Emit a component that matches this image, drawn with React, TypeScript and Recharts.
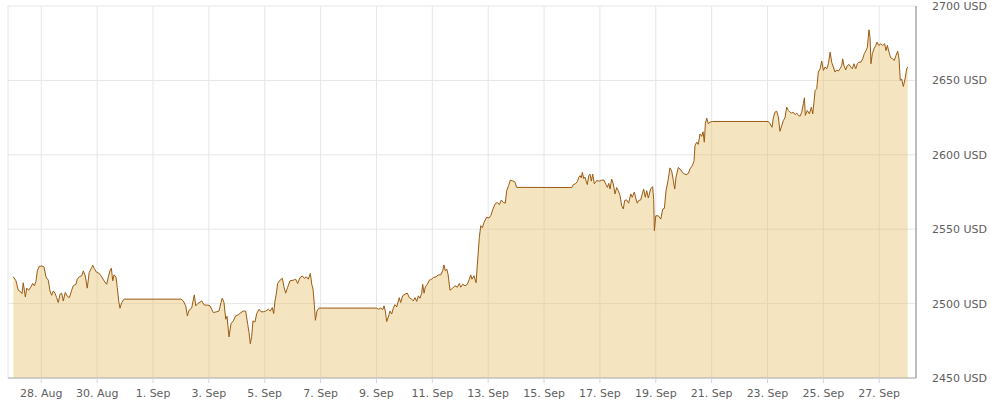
import { Area, AreaChart, CartesianGrid, XAxis, YAxis } from "recharts";

// hours since 27 Aug 00:00
const HOURS = [
  0, 2.3, 4.2, 6.3, 7.4, 8.5, 10.3, 11.5, 13.2, 14.9, 16.6, 18.0, 19.4, 20.6, 22.3, 24.3, 26.3, 28.0, 30.0, 31.5,
  32.9, 34.3, 35.8, 37.2, 38.6, 40.1, 41.5, 42.9, 44.6, 46.3, 48.1, 50.1, 51.5, 53.8, 54.9, 56.7, 58.7, 60.1, 61.8, 63.5,
  65.2, 67.3, 68.2, 69.5, 71.6, 73.8, 75.9, 77.9, 80.2, 81.6, 83.0, 84.2, 85.4, 86.5, 88.2, 89.3, 90.5, 91.6, 93.1, 95.1,
  144.0, 146.0, 148.1, 149.5, 150.9, 153.2, 155.5, 156.7, 158.4, 160.4, 161.8, 164.1, 167.0, 169.0, 171.8, 174.7, 176.7, 178.4, 179.5, 181.0,
  182.5, 183.6, 185.3, 187.0, 189.0, 191.0, 193.3, 195.6, 197.6, 199.6, 201.4, 202.5, 203.6, 204.8, 205.9, 207.6, 209.1, 211.1, 212.8, 214.8,
  216.8, 219.1, 220.8, 222.5, 223.7, 224.8, 225.9, 227.1, 229.1, 231.1, 232.5, 234.0, 235.7, 237.7, 240.5, 242.6, 244.3, 246.3, 248.3, 250.0,
  251.7, 253.4, 255.2, 256.4, 257.5, 258.6, 259.5, 260.9, 262.6, 312.2, 313.6, 315.6, 317.4, 318.5, 319.6, 320.8, 322.5, 323.6, 325.1, 326.5,
  327.9, 329.4, 330.8, 331.6, 332.8, 334.5, 336.5, 338.5, 340.2, 342.3, 343.7, 345.1, 346.6, 348.0, 349.4, 350.9, 351.7, 352.9, 354.0, 355.7,
  357.4, 359.5, 360.8, 363.2, 365.1, 367.2, 368.9, 370.0, 371.2, 372.4, 373.5, 375.2, 377.5, 379.5, 381.5, 383.2, 384.4, 386.1, 388.1, 390.1,
  391.8, 393.0, 394.1, 395.8, 397.6, 398.7, 400.4, 401.6, 403.0, 404.4, 406.7, 408.7, 410.2, 411.9, 413.9, 415.8, 417.6, 419.3, 421.0, 422.7,
  423.9, 425.6, 427.0, 428.7, 430.8, 432.5, 479.8, 481.2, 482.9, 484.6, 485.8, 486.9, 488.0, 488.9, 490.1, 491.2, 492.3, 493.2, 494.4, 495.5,
  496.6, 497.8, 499.2, 501.3, 503.5, 505.6, 507.5, 509.2, 510.4, 511.6, 512.7, 514.1, 515.5, 517.0, 518.4, 519.8, 521.3, 522.7, 524.1, 525.3,
  527.0, 528.7, 530.5, 531.8, 533.6, 535.0, 536.1, 537.3, 539.1, 540.4, 541.6, 543.0, 544.2, 545.6, 547.6, 549.3, 550.2, 550.8, 552.0, 554.2,
  556.3, 558.0, 559.4, 560.8, 562.5, 564.2, 565.7, 567.1, 568.3, 569.4, 571.4, 573.4, 575.7, 578.0, 580.0, 581.4, 583.4, 584.9, 585.7, 587.2,
  588.5, 590.0, 591.5, 592.6, 593.7, 594.6, 595.8, 597.2, 598.6, 600.9, 648.7, 650.1, 651.9, 653.0, 654.4, 655.9, 657.3, 658.7, 660.2, 661.6,
  663.0, 664.5, 665.9, 667.4, 668.8, 670.2, 671.7, 673.1, 674.5, 676.0, 677.4, 678.8, 679.7, 680.5, 682.2, 684.0, 685.7, 686.9, 688.0, 688.9,
  690.3, 691.7, 693.2, 694.6, 696.0, 697.5, 698.9, 700.3, 701.8, 703.2, 704.6, 706.0, 707.5, 708.9, 710.3, 711.8, 712.6, 713.7, 715.2, 716.6,
  718.1, 719.5, 720.9, 722.3, 723.8, 725.2, 726.6, 728.3, 729.8, 731.2, 732.6, 733.8, 735.2, 736.1, 736.9, 738.1, 739.5, 741.0, 742.1, 743.6,
  745.3, 747.0, 748.7, 749.8, 751.0, 752.4, 753.9, 755.6, 757.0, 758.4, 759.9, 761.0, 762.1, 763.3, 764.7, 766.2, 767.6, 768.5,
];

const PRICES = [
  2518, 2515.3, 2509, 2508, 2506.7, 2514, 2504.5, 2510.4, 2509, 2511, 2513.5, 2512, 2514.8, 2522, 2525, 2525.3, 2524.7, 2518, 2515.7, 2508.5,
  2505.6, 2508.5, 2507, 2504, 2500.7, 2506.3, 2507, 2501.8, 2507.5, 2505, 2504, 2509, 2512, 2513, 2516.4, 2518, 2518.7, 2522, 2518.5, 2510.4,
  2521, 2524.2, 2525.8, 2523.5, 2521, 2520.3, 2518, 2515.3, 2513, 2518, 2522, 2523.8, 2515.3, 2519.3, 2518, 2510.8, 2501.8, 2496.9, 2500.7, 2503,
  2503, 2501.8, 2498.5, 2491.7, 2495.5, 2497, 2505.9, 2498.5, 2500, 2501, 2501.8, 2499, 2499, 2498.5, 2494, 2494.5, 2495, 2500.7, 2503.6, 2500.7,
  2489.5, 2491.5, 2477.6, 2486.5, 2488.4, 2491.7, 2492.5, 2494, 2495, 2495, 2486, 2480.5, 2473, 2478, 2488.4, 2487.6, 2493.3, 2496.2, 2494.5, 2494.5,
  2495, 2496.2, 2495, 2497.3, 2493.3, 2501.8, 2506.3, 2513.5, 2515.7, 2517, 2511.3, 2507, 2511, 2515.3, 2515.7, 2516.4, 2513.5, 2517.5, 2518.6, 2517,
  2518, 2516.4, 2520.2, 2513, 2509.7, 2499.6, 2488.8, 2495, 2497, 2497, 2496.2, 2497, 2496, 2498.5, 2495, 2487.9, 2491.7, 2495, 2493, 2497,
  2499.3, 2497.8, 2501.8, 2504, 2500.7, 2505.2, 2506.3, 2507, 2504, 2503, 2501.8, 2504, 2501.5, 2505.2, 2503.6, 2507, 2513, 2507, 2511.3, 2513,
  2515.7, 2516.4, 2517.5, 2518, 2519.3, 2519.3, 2522, 2526, 2522, 2523.2, 2519.8, 2509, 2510.4, 2512, 2511, 2513.5, 2511, 2513, 2512, 2513,
  2516.4, 2519.3, 2516.4, 2518.7, 2514, 2526.5, 2544.4, 2552.3, 2551, 2554.5, 2558, 2557.5, 2559, 2563, 2567, 2568, 2566.5, 2569.6, 2568, 2567.5,
  2575.9, 2579.3, 2583, 2582.5, 2582, 2578.1, 2578, 2580, 2580.5, 2582, 2584.8, 2586, 2584.5, 2588.2, 2584, 2585, 2582, 2580, 2586, 2587,
  2582.3, 2587, 2580.5, 2582.7, 2582.3, 2583, 2583, 2580, 2578.1, 2580.8, 2577, 2583.7, 2580.5, 2573.7, 2578, 2575.9, 2572.6, 2565.8, 2563.6, 2569.3,
  2569.7, 2567.5, 2573.7, 2571.5, 2575, 2570.3, 2567.5, 2569.3, 2569.7, 2573.7, 2577, 2571.5, 2575.9, 2571, 2577, 2578.6, 2570, 2549, 2559, 2559,
  2556.8, 2563.6, 2564, 2575.9, 2582.6, 2591.2, 2589, 2582.6, 2577, 2585, 2591.6, 2589.8, 2587.5, 2586.6, 2587.5, 2590.5, 2592.7, 2596, 2606.2, 2608.5,
  2607, 2614, 2612.4, 2615.5, 2608.5, 2620.8, 2624.6, 2620.8, 2622, 2622.4, 2622.4, 2621, 2618.5, 2624.8, 2628.6, 2629.3, 2625.6, 2615.8, 2619.5, 2623,
  2624.8, 2632, 2629.8, 2628.6, 2628, 2628.6, 2627, 2628, 2626.5, 2626, 2628.6, 2634.3, 2638.3, 2626.5, 2629.8, 2627.5, 2632, 2627.5, 2636, 2643.2,
  2644.4, 2655.6, 2657.8, 2663, 2656.7, 2659, 2657.8, 2661.2, 2669, 2662, 2659, 2655.6, 2657, 2656.3, 2657.8, 2660, 2664.5, 2660, 2657, 2660,
  2660.7, 2659, 2657.8, 2661.2, 2657.8, 2661.2, 2662.3, 2662.3, 2664.5, 2668, 2670, 2672.3, 2684, 2679, 2661.2, 2668, 2671.2, 2673.5, 2675.7, 2673.5,
  2674.6, 2673.5, 2674.6, 2670, 2673.5, 2669, 2665.2, 2664.5, 2663.4, 2666.8, 2669.7, 2664.5, 2650, 2651, 2645.9, 2651, 2657.8, 2659,
];

const TICK_HOURS = [24, 72, 120, 168, 216, 264, 312, 360, 408, 456, 504, 552, 600, 648, 696, 744];
const TICK_LABELS = [
  "28. Aug", "30. Aug", "1. Sep", "3. Sep", "5. Sep", "7. Sep", "9. Sep", "11. Sep",
  "13. Sep", "15. Sep", "17. Sep", "19. Sep", "21. Sep", "23. Sep", "25. Sep", "27. Sep",
];
const Y_TICKS = [2450, 2500, 2550, 2600, 2650, 2700];

const data = HOURS.map((h, i) => ({ h, price: PRICES[i] }));

const labelFor = (h: number) => TICK_LABELS[TICK_HOURS.indexOf(h)] ?? "";

export default function App() {
  return (
    <div style={{ position: "absolute", left: 0, top: 0, fontFamily: "DejaVu Sans" }}>
      <AreaChart width={990} height={400} data={data} margin={{ top: 6, right: 0, bottom: 0, left: 8 }}>
        <CartesianGrid stroke="#e6e6e6" />
        <XAxis
          dataKey="h"
          type="number"
          scale="linear"
          domain={[-4.6, 775.6]}
          allowDataOverflow
          ticks={TICK_HOURS}
          tickFormatter={labelFor}
          height={22}
          tickSize={5}
          tickMargin={6}
          interval={0}
          axisLine={{ stroke: "#b0b0b0" }}
          tickLine={{ stroke: "#ccd6eb" }}
          tick={{ fill: "#606060", fontSize: 11, fontFamily: "DejaVu Sans" }}
        />
        <YAxis
          orientation="right"
          domain={[2450, 2700]}
          ticks={Y_TICKS}
          allowDataOverflow
          width={74}
          tickLine={false}
          tickMargin={10}
          axisLine={{ stroke: "#888888" }}
          tickFormatter={(v: number) => `${v} USD`}
          tick={{ fill: "#606060", fontSize: 11, fontFamily: "DejaVu Sans" }}
        />
        <Area
          type="linear"
          dataKey="price"
          baseValue={2450}
          stroke="#9a5b14"
          strokeWidth={1}
          fill="#e5bf66"
          fillOpacity={0.42}
          dot={false}
          activeDot={false}
          isAnimationActive={false}
        />
      </AreaChart>
    </div>
  );
}
